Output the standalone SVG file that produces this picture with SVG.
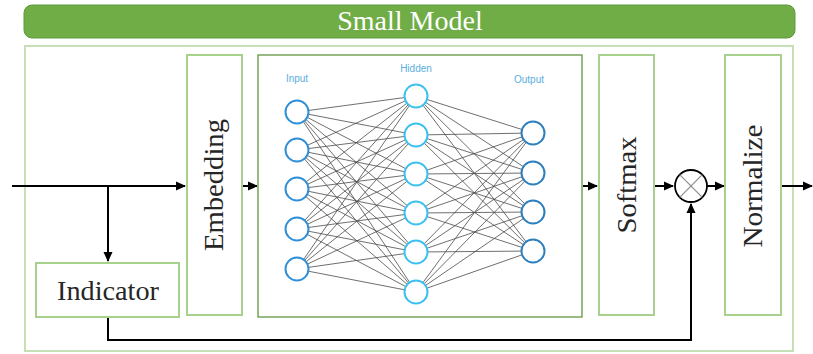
<svg xmlns="http://www.w3.org/2000/svg" width="813" height="354" viewBox="0 0 813 354">
  <style>
    .block { fill: #ffffff; stroke: #a9d18e; stroke-width: 2; }
    .label { font-family: "Liberation Serif", "Times New Roman", serif; font-size: 28px; fill: #262626; text-anchor: middle; }
    .wire { fill: none; stroke: #000000; stroke-width: 2; }
    .syn line { stroke: #4a4a4a; stroke-width: 0.8; }
    .neuron { fill: #ffffff; stroke-width: 2; }
    .layer-name { font-family: "Liberation Sans", Arial, sans-serif; font-size: 10px; fill: #5aaee0; text-anchor: middle; }
  </style>
  <defs>
    <marker id="arrow" markerWidth="10" markerHeight="10" refX="9" refY="5" orient="auto" markerUnits="userSpaceOnUse">
      <path d="M0,0.5 L10,5 L0,9.5 Z" fill="#000000"/>
    </marker>
  </defs>

  <rect width="813" height="354" fill="#ffffff"/>

  <!-- title bar -->
  <g id="title">
    <rect x="24" y="5" width="771" height="33" rx="8" ry="8" fill="#70ad47" stroke="#5f9a3c" stroke-width="1"/>
    <text x="410" y="30" font-family="'Liberation Serif', 'Times New Roman', serif" font-size="28" fill="#ffffff" text-anchor="middle">Small Model</text>
  </g>

  <!-- container -->
  <rect id="container" x="25" y="46" width="768" height="305" fill="none" stroke="#c5e0b4" stroke-width="2"/>

  <!-- connectors -->
  <g id="connectors">
    <path class="wire" d="M12,186 L185,186" marker-end="url(#arrow)"/>
    <path class="wire" d="M108,186 L108,261" marker-end="url(#arrow)"/>
    <path class="wire" d="M243,186 L257,186" marker-end="url(#arrow)"/>
    <path class="wire" d="M583,186 L597,186" marker-end="url(#arrow)"/>
    <path class="wire" d="M655,186 L673,186" marker-end="url(#arrow)"/>
    <path class="wire" d="M707,186 L724,186" marker-end="url(#arrow)"/>
    <path class="wire" d="M781,186 L812,186" marker-end="url(#arrow)"/>
    <path class="wire" d="M108,318 L108,340 L691,340 L691,204" marker-end="url(#arrow)"/>
  </g>

  <g id="indicator">
    <rect class="block" x="36" y="263" width="143" height="54"/>
    <text class="label" x="108" y="300" textLength="102" lengthAdjust="spacingAndGlyphs">Indicator</text>
  </g>

  <g id="embedding">
    <rect class="block" x="187" y="55" width="55" height="260"/>
    <text class="label" transform="translate(223,185) rotate(-90)" textLength="132" lengthAdjust="spacingAndGlyphs">Embedding</text>
  </g>

  <g id="network">
    <rect x="258" y="55" width="324" height="262" fill="#ffffff" stroke="#78a35a" stroke-width="1.5"/>
    <g class="syn">
      <!-- input -> hidden -->
      <line x1="297" y1="112" x2="416" y2="96"/><line x1="297" y1="112" x2="416" y2="135"/><line x1="297" y1="112" x2="416" y2="174"/><line x1="297" y1="112" x2="416" y2="213"/><line x1="297" y1="112" x2="416" y2="252"/><line x1="297" y1="112" x2="416" y2="292"/>
      <line x1="297" y1="150" x2="416" y2="96"/><line x1="297" y1="150" x2="416" y2="135"/><line x1="297" y1="150" x2="416" y2="174"/><line x1="297" y1="150" x2="416" y2="213"/><line x1="297" y1="150" x2="416" y2="252"/><line x1="297" y1="150" x2="416" y2="292"/>
      <line x1="297" y1="189" x2="416" y2="96"/><line x1="297" y1="189" x2="416" y2="135"/><line x1="297" y1="189" x2="416" y2="174"/><line x1="297" y1="189" x2="416" y2="213"/><line x1="297" y1="189" x2="416" y2="252"/><line x1="297" y1="189" x2="416" y2="292"/>
      <line x1="297" y1="229" x2="416" y2="96"/><line x1="297" y1="229" x2="416" y2="135"/><line x1="297" y1="229" x2="416" y2="174"/><line x1="297" y1="229" x2="416" y2="213"/><line x1="297" y1="229" x2="416" y2="252"/><line x1="297" y1="229" x2="416" y2="292"/>
      <line x1="297" y1="269" x2="416" y2="96"/><line x1="297" y1="269" x2="416" y2="135"/><line x1="297" y1="269" x2="416" y2="174"/><line x1="297" y1="269" x2="416" y2="213"/><line x1="297" y1="269" x2="416" y2="252"/><line x1="297" y1="269" x2="416" y2="292"/>
      <!-- hidden -> output -->
      <line x1="416" y1="96" x2="533" y2="133"/><line x1="416" y1="96" x2="533" y2="173"/><line x1="416" y1="96" x2="533" y2="212"/><line x1="416" y1="96" x2="533" y2="251"/>
      <line x1="416" y1="135" x2="533" y2="133"/><line x1="416" y1="135" x2="533" y2="173"/><line x1="416" y1="135" x2="533" y2="212"/><line x1="416" y1="135" x2="533" y2="251"/>
      <line x1="416" y1="174" x2="533" y2="133"/><line x1="416" y1="174" x2="533" y2="173"/><line x1="416" y1="174" x2="533" y2="212"/><line x1="416" y1="174" x2="533" y2="251"/>
      <line x1="416" y1="213" x2="533" y2="133"/><line x1="416" y1="213" x2="533" y2="173"/><line x1="416" y1="213" x2="533" y2="212"/><line x1="416" y1="213" x2="533" y2="251"/>
      <line x1="416" y1="252" x2="533" y2="133"/><line x1="416" y1="252" x2="533" y2="173"/><line x1="416" y1="252" x2="533" y2="212"/><line x1="416" y1="252" x2="533" y2="251"/>
      <line x1="416" y1="292" x2="533" y2="133"/><line x1="416" y1="292" x2="533" y2="173"/><line x1="416" y1="292" x2="533" y2="212"/><line x1="416" y1="292" x2="533" y2="251"/>
    </g>
    <g class="neuron" stroke="#2f8fd8">
      <circle cx="297" cy="112" r="11.5"/><circle cx="297" cy="150" r="11.5"/><circle cx="297" cy="189" r="11.5"/><circle cx="297" cy="229" r="11.5"/><circle cx="297" cy="269" r="11.5"/>
    </g>
    <g class="neuron" stroke="#3cc0f0">
      <circle cx="416" cy="96" r="11.5"/><circle cx="416" cy="135" r="11.5"/><circle cx="416" cy="174" r="11.5"/><circle cx="416" cy="213" r="11.5"/><circle cx="416" cy="252" r="11.5"/><circle cx="416" cy="292" r="11.5"/>
    </g>
    <g class="neuron" stroke="#2b7fbf">
      <circle cx="533" cy="133" r="11.5"/><circle cx="533" cy="173" r="11.5"/><circle cx="533" cy="212" r="11.5"/><circle cx="533" cy="251" r="11.5"/>
    </g>
    <text class="layer-name" x="297" y="82">Input</text>
    <text class="layer-name" x="416" y="72">Hidden</text>
    <text class="layer-name" x="529" y="83">Output</text>
  </g>

  <g id="softmax">
    <rect class="block" x="599" y="55" width="55" height="260"/>
    <text class="label" transform="translate(636,185) rotate(-90)" textLength="97" lengthAdjust="spacingAndGlyphs">Softmax</text>
  </g>

  <g id="multiply">
    <circle cx="691" cy="186" r="16" fill="#ffffff" stroke="#000000" stroke-width="1.8"/>
    <line x1="679.7" y1="174.7" x2="702.3" y2="197.3" stroke="#8c8c8c" stroke-width="1.2"/>
    <line x1="702.3" y1="174.7" x2="679.7" y2="197.3" stroke="#8c8c8c" stroke-width="1.2"/>
  </g>

  <g id="normalize">
    <rect class="block" x="725" y="55" width="56" height="260"/>
    <text class="label" transform="translate(762,186) rotate(-90)" textLength="123" lengthAdjust="spacingAndGlyphs">Normalize</text>
  </g>
</svg>
